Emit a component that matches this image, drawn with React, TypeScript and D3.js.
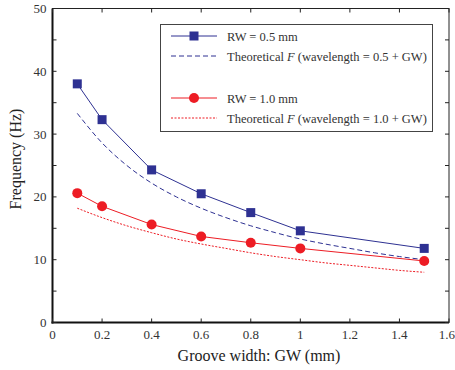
import React, { useEffect, useRef } from 'react';
import * as d3 from 'd3';

const gwMeasured = [0.1, 0.2, 0.4, 0.6, 0.8, 1.0, 1.5];
const rw05 = [38, 32.3, 24.3, 20.5, 17.5, 14.6, 11.8];
const rw10 = [20.6, 18.5, 15.6, 13.7, 12.7, 11.8, 9.8];

const gwTheory = [0.1, 0.2, 0.3, 0.4, 0.5, 0.6, 0.7, 0.8, 0.9, 1.0, 1.1, 1.2, 1.3, 1.4, 1.5];
const theory05 = [33.3, 28.6, 25, 22.2, 20, 18.2, 16.7, 15.4, 14.3, 13.3, 12.5, 11.8, 11.1, 10.5, 10];
const theory10 = [18.2, 16.7, 15.4, 14.3, 13.3, 12.5, 11.8, 11.1, 10.5, 10, 9.5, 9.1, 8.7, 8.3, 8];

const xTicks = [0, 0.2, 0.4, 0.6, 0.8, 1, 1.2, 1.4, 1.6];
const yTicks = [0, 10, 20, 30, 40, 50];
const yMinor = [0, 5, 10, 15, 20, 25, 30, 35, 40, 45, 50];

const BLUE = '#2e3192';
const RED = '#ed1c24';
const FONT = 'Liberation Serif';

const App = () => {
  const svgRef = useRef<SVGSVGElement>(null);

  useEffect(() => {
    const svg = d3.select(svgRef.current);
    svg.selectAll('*').remove();

    const left = 52.5, right = 449, top = 8.5, bottom = 322.5;
    const x = d3.scaleLinear().domain([0, 1.6]).range([left, right]);
    const y = d3.scaleLinear().domain([0, 50]).range([bottom, top]);

    // frame
    svg.append('rect')
      .attr('x', left).attr('y', top)
      .attr('width', right - left).attr('height', bottom - top)
      .attr('fill', 'none').attr('stroke', '#222').attr('stroke-width', 1);
    svg.append('line').attr('x1', left).attr('x2', left).attr('y1', top).attr('y2', bottom + 1)
      .attr('stroke', '#111').attr('stroke-width', 2);
    svg.append('line').attr('x1', left - 1).attr('x2', right).attr('y1', bottom).attr('y2', bottom)
      .attr('stroke', '#111').attr('stroke-width', 2);

    const tl = 4;
    xTicks.forEach((t, i) => {
      svg.append('line').attr('x1', x(t)).attr('x2', x(t)).attr('y1', bottom).attr('y2', bottom - tl).attr('stroke', '#222');
      svg.append('line').attr('x1', x(t)).attr('x2', x(t)).attr('y1', top).attr('y2', top + tl).attr('stroke', '#222');
      const last = i === xTicks.length - 1;
      svg.append('text').attr('x', last ? 455 : x(t)).attr('y', bottom + 16)
        .attr('text-anchor', last ? 'end' : 'middle').style('font-family', FONT).attr('font-size', 13).attr('fill', '#333')
        .text(String(t));
    });
    yMinor.forEach((t) => {
      svg.append('line').attr('x1', left).attr('x2', left + tl).attr('y1', y(t)).attr('y2', y(t)).attr('stroke', '#222');
      svg.append('line').attr('x1', right).attr('x2', right - tl).attr('y1', y(t)).attr('y2', y(t)).attr('stroke', '#222');
    });
    yTicks.forEach((t) => {
      svg.append('text').attr('x', left - 6).attr('y', y(t) + 4.5)
        .attr('text-anchor', 'end').style('font-family', FONT).attr('font-size', 13).attr('fill', '#333')
        .text(String(t));
    });

    svg.append('text').attr('x', 259).attr('y', 361)
      .attr('text-anchor', 'middle').style('font-family', FONT).attr('font-size', 16).attr('fill', '#222')
      .text('Groove width: GW (mm)');
    svg.append('text').attr('transform', 'translate(21,159) rotate(-90)')
      .attr('text-anchor', 'middle').style('font-family', FONT).attr('font-size', 16).attr('fill', '#222')
      .text('Frequency (Hz)');

    const line = d3.line<[number, number]>().x((d) => x(d[0])).y((d) => y(d[1]));
    const curve = d3.line<[number, number]>().x((d) => x(d[0])).y((d) => y(d[1])).curve(d3.curveMonotoneX);

    const t05 = gwTheory.map((g, i) => [g, theory05[i]] as [number, number]);
    const t10 = gwTheory.map((g, i) => [g, theory10[i]] as [number, number]);
    const m05 = gwMeasured.map((g, i) => [g, rw05[i]] as [number, number]);
    const m10 = gwMeasured.map((g, i) => [g, rw10[i]] as [number, number]);

    svg.append('path').attr('d', curve(t05)).attr('fill', 'none').attr('stroke', BLUE)
      .attr('stroke-width', 1).attr('stroke-dasharray', '5,3');
    svg.append('path').attr('d', curve(t10)).attr('fill', 'none').attr('stroke', RED)
      .attr('stroke-width', 1).attr('stroke-dasharray', '2,1.5');
    svg.append('path').attr('d', line(m05)).attr('fill', 'none').attr('stroke', BLUE).attr('stroke-width', 1);
    svg.append('path').attr('d', line(m10)).attr('fill', 'none').attr('stroke', RED).attr('stroke-width', 1);

    const sq = 9;
    svg.selectAll('rect.m05').data(m05).enter().append('rect')
      .attr('x', (d) => x(d[0]) - sq / 2).attr('y', (d) => y(d[1]) - sq / 2)
      .attr('width', sq).attr('height', sq).attr('fill', BLUE);
    svg.selectAll('circle.m10').data(m10).enter().append('circle')
      .attr('cx', (d) => x(d[0])).attr('cy', (d) => y(d[1])).attr('r', 5).attr('fill', RED);

    // legend
    const lg = svg.append('g');
    lg.append('rect').attr('x', 160.5).attr('y', 24.5).attr('width', 272).attr('height', 107)
      .attr('fill', 'white').attr('stroke', '#444').attr('stroke-width', 1);
    const rows = [
      { y: 36, label: 'RW = 0.5 mm', color: BLUE, dash: null, mark: 'sq' },
      { y: 56, label: 'theory05', color: BLUE, dash: '5,3', mark: null },
      { y: 98, label: 'RW = 1.0 mm', color: RED, dash: null, mark: 'ci' },
      { y: 118, label: 'theory10', color: RED, dash: '2,1.5', mark: null },
    ];
    rows.forEach((r) => {
      const ln = lg.append('line').attr('x1', 171).attr('x2', 217).attr('y1', r.y).attr('y2', r.y)
        .attr('stroke', r.color).attr('stroke-width', 1);
      if (r.dash) ln.attr('stroke-dasharray', r.dash);
      if (r.mark === 'sq') lg.append('rect').attr('x', 194 - sq / 2).attr('y', r.y - sq / 2).attr('width', sq).attr('height', sq).attr('fill', r.color);
      if (r.mark === 'ci') lg.append('circle').attr('cx', 194).attr('cy', r.y).attr('r', 5).attr('fill', r.color);
      const tx = lg.append('text').attr('x', 227).attr('y', r.y + 4.5)
        .style('font-family', FONT).attr('font-size', 12.5).attr('fill', '#333');
      if (r.label.startsWith('theory')) {
        const w = r.label === 'theory05' ? '0.5' : '1.0';
        tx.append('tspan').text('Theoretical ');
        tx.append('tspan').attr('font-style', 'italic').text('F');
        tx.append('tspan').text(` (wavelength = ${w} + GW)`);
      } else {
        tx.text(r.label);
      }
    });
  }, []);

  return (
    <svg ref={svgRef} width={455} height={370}
      style={{ position: 'absolute', left: 0, top: 0, background: 'white' }}></svg>
  );
};

export default App;
